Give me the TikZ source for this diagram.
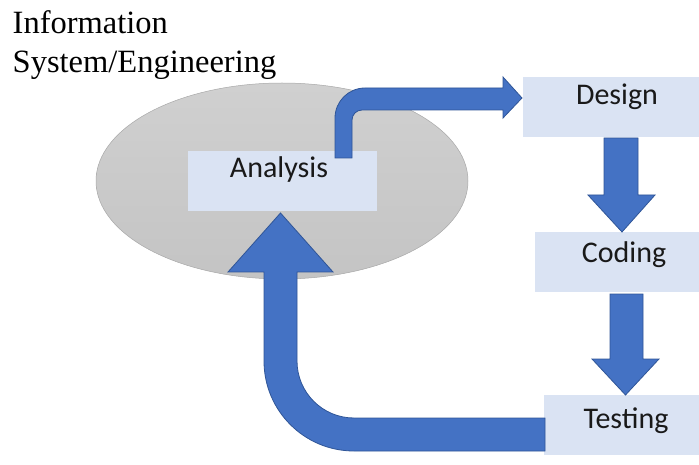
\documentclass[tikz,border=0pt]{standalone}
\usepackage{fontspec}
\setmainfont{Liberation Serif}
\newfontfamily\labelfont{Carlito}
\usetikzlibrary{shapes.geometric}

\definecolor{boxfill}{HTML}{DAE3F3}
\definecolor{arrowfill}{HTML}{4472C4}
\definecolor{arrowline}{HTML}{2F5597}
\definecolor{ovaltop}{HTML}{D0D0D0}
\definecolor{ovalbot}{HTML}{C4C4C4}
\definecolor{ovalline}{HTML}{A8A8A8}

\tikzset{
  stagebox/.style={rectangle, fill=boxfill, draw=none, inner sep=0pt},
  stagetext/.style={anchor=base, inner sep=0pt, font=\labelfont\fontsize{30}{34}\selectfont, text=black!90},
  titletext/.style={anchor=base west, inner sep=0pt, font=\fontsize{32.5}{38}\selectfont},
  blockarrow/.style={fill=arrowfill, draw=arrowline, line width=0.8pt, line join=miter}
}

\begin{document}
\begin{tikzpicture}[x=1pt, y=-1pt]
  \useasboundingbox (0,0) rectangle (699,465);

  % title
  \node[titletext] (title1) at (12.5,34) {Information};
  \node[titletext] (title2) at (12.5,73) {System/Engineering};

  % grey oval behind the analysis stage
  \node[ellipse, minimum width=372pt, minimum height=196pt, inner sep=0pt,
        top color=ovaltop, bottom color=ovalbot, draw=ovalline, line width=0.5pt]
        (oval) at (282,181) {};

  % stage boxes
  \node[stagebox, minimum width=189pt, minimum height=60pt] (analysis) at (282.5,181) {};
  \node[stagebox, minimum width=176pt, minimum height=60pt] (design)   at (611,107) {};
  \node[stagebox, minimum width=164pt, minimum height=60pt] (coding)   at (617,262) {};
  \node[stagebox, minimum width=155pt, minimum height=60pt] (testing)  at (621.5,425) {};

  % bent arrow: analysis -> design
  \draw[blockarrow] (335,158) -- (335,118) arc[start angle=180, end angle=270, radius=30]
     -- (503,88) -- (503,77) -- (522,98) -- (503,118) -- (503,110) -- (362,110)
     arc[start angle=270, end angle=180, radius=10] -- (352,158) -- cycle;

  % design -> coding
  \draw[blockarrow] (604,138) -- (638,138) -- (638,195) -- (655,195) -- (622,232)
     -- (588,195) -- (604,195) -- cycle;

  % coding -> testing
  \draw[blockarrow] (610,294) -- (643,294) -- (643,359) -- (659,359) -- (625.5,395)
     -- (592,359) -- (610,359) -- cycle;

  % return arrow: testing -> analysis
  \draw[blockarrow] (545,418) -- (354,418) arc[start angle=90, end angle=180, radius=57]
     -- (297,272) -- (333,272) -- (280.5,213) -- (228,272) -- (264,272) -- (264,361)
     arc[start angle=180, end angle=90, radius=90] -- (545,451) -- cycle;

  % stage labels
  \node[stagetext] (analysislabel) at (279,178) {Analysis};
  \node[stagetext] (designlabel)   at (617,105) {Design};
  \node[stagetext] (codinglabel)   at (624,262) {Coding};
  \node[stagetext] (testinglabel)  at (626,428) {Testing};
\end{tikzpicture}
\end{document}
